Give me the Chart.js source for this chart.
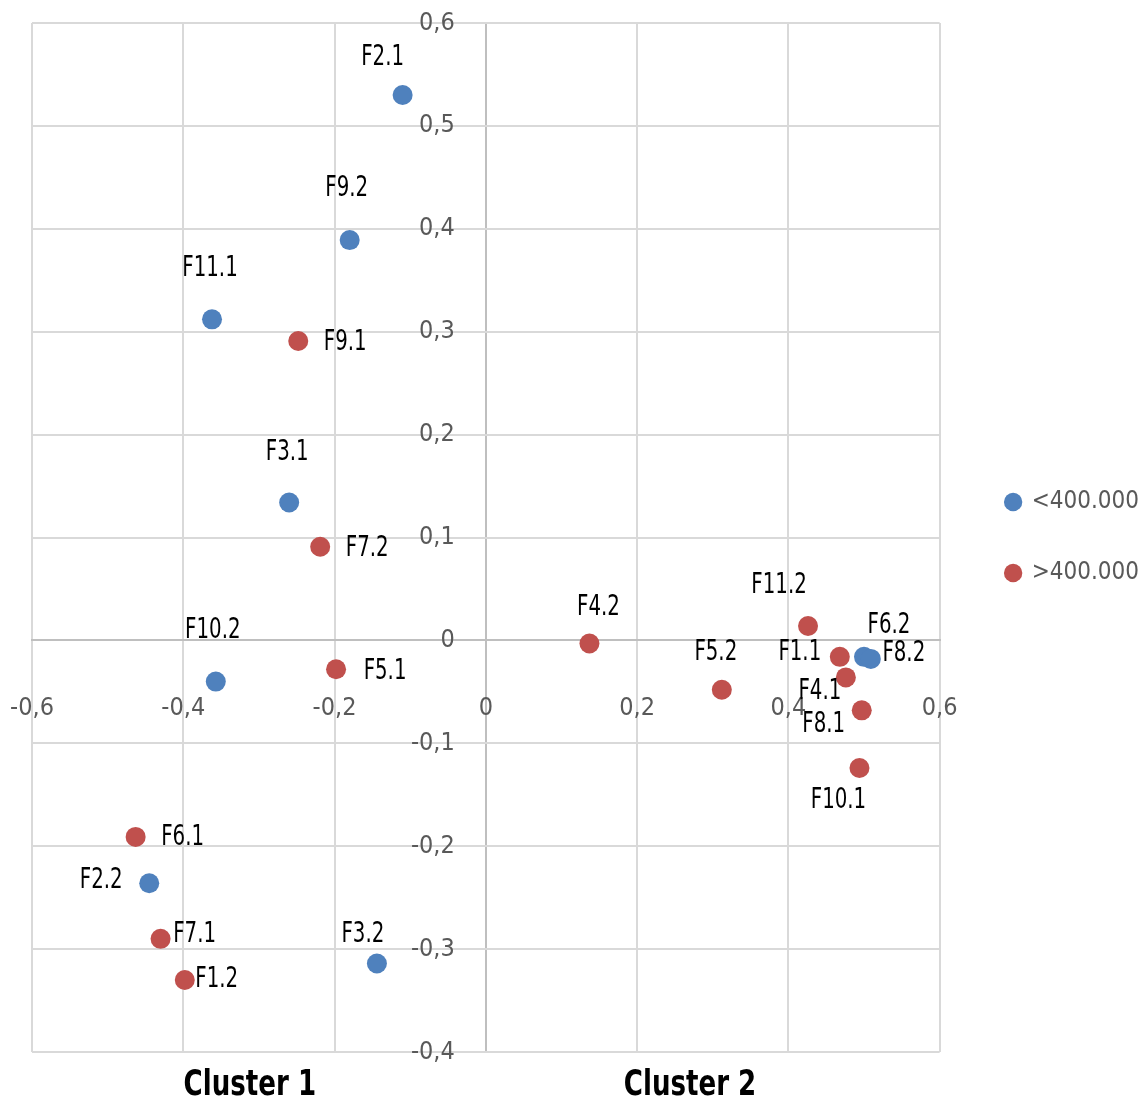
<!DOCTYPE html>
<html>
<head>
<meta charset="utf-8">
<script src="https://cdn.jsdelivr.net/npm/chart.js@4.4.1/dist/chart.umd.min.js"></script>
<style>
  html, body { margin: 0; padding: 0; background: #fff; }
  #wrap { width: 1139px; height: 1105px; }
</style>
</head>
<body>
<div id="wrap"><canvas id="myChart" width="1139" height="1105"></canvas></div>
<script>
// values
const seriesNames = ['<400.000', '>400.000'];

const lowNames = ['F2.1', 'F9.2', 'F11.1', 'F3.1', 'F10.2', 'F2.2', 'F3.2', 'F6.2', 'F8.2'];
const lowX = [-0.110, -0.180, -0.362, -0.260, -0.357, -0.445, -0.144, 0.500, 0.509];
const lowY = [0.530, 0.389, 0.312, 0.134, -0.040, -0.236, -0.314, -0.016, -0.018];

const highNames = ['F9.1', 'F7.2', 'F5.1', 'F6.1', 'F7.1', 'F1.2', 'F4.2', 'F5.2', 'F11.2', 'F1.1', 'F4.1', 'F8.1', 'F10.1'];
const highX = [-0.248, -0.219, -0.198, -0.463, -0.430, -0.398, 0.137, 0.312, 0.426, 0.468, 0.476, 0.497, 0.494];
const highY = [0.291, 0.091, -0.028, -0.191, -0.290, -0.330, -0.003, -0.048, 0.014, -0.016, -0.036, -0.068, -0.124];

const clusterNames = ['Cluster 1', 'Cluster 2'];

// label placement (pixel offset of label centre from its point)
const lowLabelOffsets = [[-20, -37], [-3, -52], [-2, -51], [-2, -50], [-3, -51], [-48, -3], [-14, -29], [25, -31], [33, -5]];
const highLabelOffsets = [[47, 2], [47, 2], [49, 2], [47, 1], [34, -4], [32, 0], [9, -36], [-6, -37], [-29, -40], [-40, -4], [-26, 14], [-38, 14], [-21, 33]];

const FONT = '"DejaVu Sans Condensed", "DejaVu Sans", sans-serif';

function toPoints(xs, ys) {
    return xs.map((x, i) => ({ x: x, y: ys[i] }));
}

function fmt(v) {
    const r = Math.round(v * 10) / 10;
    if (r === 0) return '0';
    return r.toFixed(1).replace('.', ',');
}

// axes sit inside the plot, so they should not push the plot area in
function noScalePadding(scale) {
    scale.paddingLeft = 0;
    scale.paddingRight = 0;
    scale.paddingTop = 0;
    scale.paddingBottom = 0;
}

const pointLabels = {
    id: 'pointLabels',
    afterLayout(chart) {
        // legend sits a bit further right than chart.js puts it
        chart.legend.left += 20;
        chart.legend.right += 20;
    },
    afterDatasetsDraw(chart) {
        const ctx = chart.ctx;
        const sets = [[lowNames, lowLabelOffsets], [highNames, highLabelOffsets]];
        ctx.save();
        ctx.fillStyle = '#000';
        ctx.textAlign = 'center';
        ctx.textBaseline = 'middle';
        ctx.font = '22px ' + FONT;
        sets.forEach((s, di) => {
            const meta = chart.getDatasetMeta(di);
            meta.data.forEach((el, i) => {
                const off = s[1][i];
                ctx.save();
                ctx.translate(el.x + off[0], el.y + off[1]);
                ctx.scale(1, 1.3);
                ctx.fillText(s[0][i], 0, 0);
                ctx.restore();
            });
        });

        // cluster captions under the plot
        const xs = chart.scales.x;
        const at = [-0.312, 0.27];
        ctx.font = 'bold 29px ' + FONT;
        clusterNames.forEach((t, i) => {
            ctx.save();
            ctx.translate(xs.getPixelForValue(at[i]), chart.chartArea.bottom + 34);
            ctx.scale(1, 1.25);
            ctx.fillText(t, 0, 0);
            ctx.restore();
        });
        ctx.restore();
    }
};

const ctx = document.getElementById('myChart').getContext('2d');
const myChart = new Chart(ctx, {
    type: 'scatter',
    data: {
        datasets: [
            { label: seriesNames[0], data: toPoints(lowX, lowY), backgroundColor: '#4f81bd', borderColor: '#4f81bd', pointRadius: 10, pointHoverRadius: 10, borderWidth: 0 },
            { label: seriesNames[1], data: toPoints(highX, highY), backgroundColor: '#c0504d', borderColor: '#c0504d', pointRadius: 10, pointHoverRadius: 10, borderWidth: 0 }
        ]
    },
    options: {
        responsive: false,
        animation: false,
        layout: { padding: { left: 32, top: 23, bottom: 53, right: 10 } },
        plugins: {
            tooltip: { enabled: false },
            legend: {
                position: 'right',
                labels: {
                    usePointStyle: true,
                    pointStyle: 'circle',
                    boxWidth: 13,
                    boxHeight: 13,
                    padding: 47,
                    color: '#595959',
                    font: { family: FONT, size: 24 }
                }
            }
        },
        scales: {
            x: {
                type: 'linear',
                min: -0.6,
                max: 0.6,
                position: { y: 0 },
                afterFit: noScalePadding,
                grid: {
                    color: c => (c.tick && c.tick.value === 0 ? '#bfbfbf' : '#d9d9d9'),
                    lineWidth: 2,
                    drawTicks: false
                },
                border: { color: '#bfbfbf', width: 2 },
                ticks: { stepSize: 0.2, padding: 53, color: '#595959', font: { family: FONT, size: 25 }, callback: fmt }
            },
            y: {
                type: 'linear',
                min: -0.4,
                max: 0.6,
                // labels sit a little left of the zero line
                position: { x: -0.041 },
                afterFit: noScalePadding,
                grid: { color: '#d9d9d9', lineWidth: 2, drawTicks: false },
                border: { display: false },
                ticks: { stepSize: 0.1, padding: 0, color: '#595959', font: { family: FONT, size: 25 }, callback: fmt }
            }
        }
    },
    plugins: [pointLabels]
});
</script>
</body>
</html>
